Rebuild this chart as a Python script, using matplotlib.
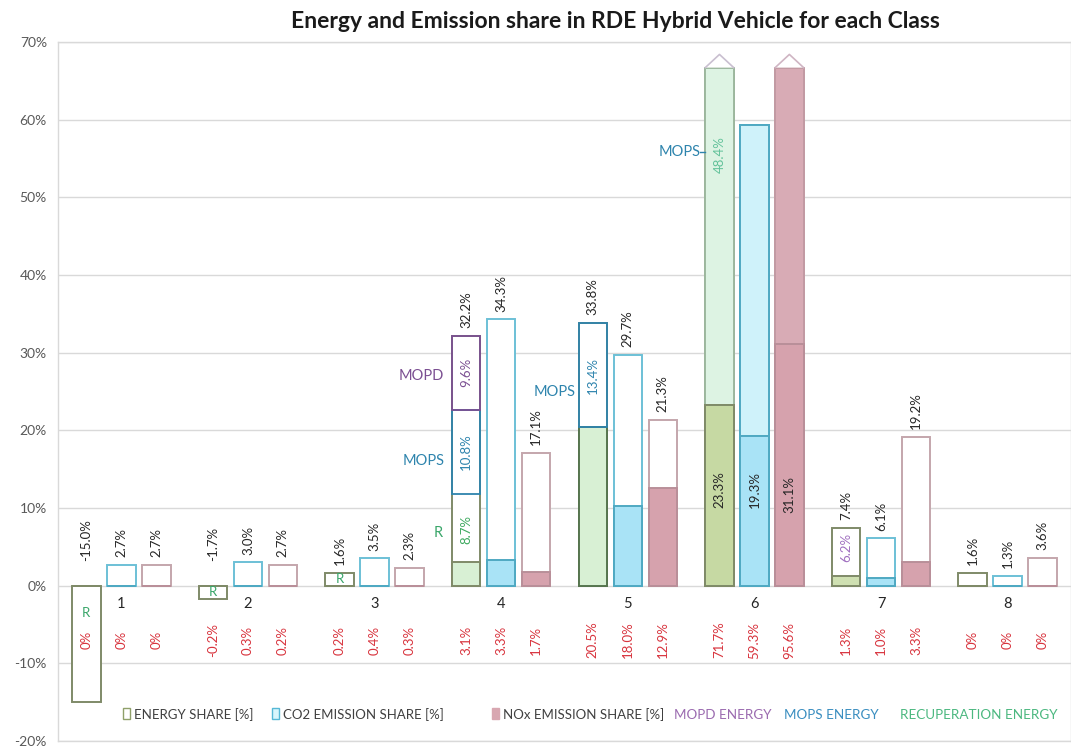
import numpy as np
import matplotlib.pyplot as plt
from matplotlib.patches import Polygon, Rectangle

plt.rcParams['font.family'] = ['Lato', 'DejaVu Sans']

# data (percent)
classes = [1, 2, 3, 4, 5, 6, 7, 8]
energy_share = [-15.0, -1.7, 1.6, 32.2, 33.8, 71.7, 7.4, 1.6]
co2_share = [2.7, 3.0, 3.5, 34.3, 29.7, 59.3, 6.1, 1.3]
nox_share = [2.7, 2.7, 2.3, 17.1, 21.3, 95.6, 19.2, 3.6]

# filled lower part of each bar
energy_base = [0, 0, 0, 3.1, 20.4, 23.3, 1.2, 0]
co2_base = [0, 0, 0, 3.3, 10.3, 19.3, 1.0, 0]
nox_base = [0, 0, 0, 1.7, 12.6, 31.1, 3.1, 0]

# split of the energy bar
recup_energy = [-15.0, -1.7, 1.6, 8.7, 0, 0, 0, 0]
mops_energy = [0, 0, 0, 10.8, 13.4, 48.4, 0, 0]
mopd_energy = [0, 0, 0, 9.6, 0, 0, 6.2, 0]

# red labels under the axis
energy_low = ['0%', '-0.2%', '0.2%', '3.1%', '20.5%', '71.7%', '1.3%', '0%']
co2_low = ['0%', '0.3%', '0.4%', '3.3%', '18.0%', '59.3%', '1.0%', '0%']
nox_low = ['0%', '0.2%', '0.3%', '1.7%', '12.9%', '95.6%', '3.3%', '0%']

CAP = 66.7  # bars taller than this are cut with an arrow

E_EDGE, C_EDGE, N_EDGE = '#7f8a68', '#6cc0d6', '#c4a6ac'
E_FILL, C_FILL, N_FILL = '#d8f0d4', '#a9e3f6', '#d6a2ad'
MOPD_C, MOPS_C, REC_C = '#7b4f92', '#2e84ad', '#3aa66a'

fig = plt.figure(figsize=(10.71, 7.47), dpi=100)
ax = fig.add_axes([58 / 1071, 6 / 747, 1013 / 1071, 699 / 747])

x = np.array(classes, dtype=float)
off, w = 0.276, 0.225
ex, cx, nx = x - off, x, x + off

def capped(v):
    return np.minimum(np.array(v, dtype=float), CAP)

# outlines of full bars
ax.bar(ex, capped(energy_share), w, facecolor='white', edgecolor=E_EDGE, lw=1.4, zorder=2)
ax.bar(cx, capped(co2_share), w, facecolor='white', edgecolor=C_EDGE, lw=1.4, zorder=2)
ax.bar(nx, capped(nox_share), w, facecolor='white', edgecolor=N_EDGE, lw=1.4, zorder=2)

# class 6 upper parts are filled lighter
i6 = 5
ax.bar(ex[i6], CAP - energy_base[i6], w, bottom=energy_base[i6], facecolor='#ddf3e3',
       edgecolor='#9db89f', lw=1.4, zorder=3)
ax.bar(cx[i6], co2_share[i6] - co2_base[i6], w, bottom=co2_base[i6], facecolor='#cff2fa',
       edgecolor='#4fa9c2', lw=1.4, zorder=3)
ax.bar(nx[i6], CAP - nox_base[i6], w, bottom=nox_base[i6], facecolor='#d8abb5',
       edgecolor='#c29aa3', lw=1.4, zorder=3)

# filled lower parts
e_fill = [E_FILL] * 8
e_fill[5] = '#c6d9a3'
e_fill[6] = '#cfe0b2'
e_edge = [E_EDGE] * 8
e_edge[4] = '#56754f'
ax.bar(ex, energy_base, w, facecolor=e_fill, edgecolor=e_edge, lw=1.4, zorder=4)
ax.bar(cx, co2_base, w, facecolor=C_FILL, edgecolor='#4fa9c2', lw=1.4, zorder=4)
ax.bar(nx, nox_base, w, facecolor=N_FILL, edgecolor='#b98f99', lw=1.4, zorder=4)

# energy segments with coloured outline
for i in range(8):
    if i == 5:
        continue
    b = energy_base[i] + max(recup_energy[i], 0)
    if mops_energy[i] > 0:
        ax.bar(ex[i], mops_energy[i], w, bottom=b, facecolor='none',
               edgecolor=MOPS_C, lw=1.3, zorder=5)
        if mopd_energy[i] > 0:
            ax.bar(ex[i], mopd_energy[i], w, bottom=b + mops_energy[i], facecolor='none',
                   edgecolor=MOPD_C, lw=1.3, zorder=5)

# arrows on cut bars
for xs, vals, ec in [(ex, energy_share, '#c9bfd0'), (nx, nox_share, '#cfb5c3')]:
    for i, v in enumerate(vals):
        if v > CAP:
            tri = [(xs[i] - w / 2, CAP), (xs[i], CAP + 1.7), (xs[i] + w / 2, CAP)]
            ax.add_patch(Polygon(tri, closed=True, facecolor='white', edgecolor='none', zorder=6))
            ax.plot([p[0] for p in tri], [p[1] for p in tri], color=ec, lw=1.2, zorder=7)

# value labels above bars
for xs, vals in [(ex, energy_share), (cx, co2_share), (nx, nox_share)]:
    for i, v in enumerate(vals):
        if i == 5:
            continue
        y = v + 1.0 if v > 0 else 3.2
        ax.text(xs[i], y, f'{v:.1f}%', rotation=90, ha='center', va='bottom',
                fontsize=9.5, color='#262626', zorder=8)

# red labels under the axis
for xs, labs in [(ex, energy_low), (cx, co2_low), (nx, nox_low)]:
    for i, s in enumerate(labs):
        ax.text(xs[i], -7.0, s, rotation=90, ha='center', va='center',
                fontsize=9.5, color='#d8333d', zorder=8)

# class numbers
for i, c in enumerate(classes):
    ax.text(cx[i], -2.4, str(c), ha='center', va='center', fontsize=10.5, color='#262626')

# inside / side annotations
ax.text(ex[0], -3.5, 'R', ha='center', va='center', fontsize=9.5, color=REC_C, zorder=8)
ax.text(ex[1], -0.85, 'R', ha='center', va='center', fontsize=9.5, color=REC_C, zorder=8)
ax.text(ex[2], 0.8, 'R', ha='center', va='center', fontsize=9.5, color=REC_C, zorder=8)

lx4 = ex[3] - w / 2
ax.text(lx4 - 0.07, 6.8, 'R', ha='right', va='center', fontsize=10.5, color=REC_C)
ax.text(lx4 - 0.06, 16.0, 'MOPS', ha='right', va='center', fontsize=10.5, color=MOPS_C)
ax.text(lx4 - 0.06, 27.0, 'MOPD', ha='right', va='center', fontsize=10.5, color=MOPD_C)
ax.text(ex[3], 7.2, '8.7%', rotation=90, ha='center', va='center', fontsize=9.5, color='#3faa60', zorder=8)
ax.text(ex[3], 17.2, '10.8%', rotation=90, ha='center', va='center', fontsize=9.5, color=MOPS_C, zorder=8)
ax.text(ex[3], 27.4, '9.6%', rotation=90, ha='center', va='center', fontsize=9.5, color=MOPD_C, zorder=8)

lx5 = ex[4] - w / 2
ax.text(lx5 - 0.02, 25.0, 'MOPS', ha='right', va='center', fontsize=10.5, color=MOPS_C)
ax.text(ex[4], 27.1, '13.4%', rotation=90, ha='center', va='center', fontsize=9.5, color=MOPS_C, zorder=8)

lx6 = ex[5] - w / 2
ax.plot([lx6 - 0.04, lx6], [55.9, 55.9], color=MOPS_C, lw=1.0, zorder=8)
ax.text(lx6 - 0.04, 55.9, 'MOPS', ha='right', va='center', fontsize=10.5, color=MOPS_C)
ax.text(ex[5], 55.5, '48.4%', rotation=90, ha='center', va='center', fontsize=9.5, color='#62c29a', zorder=8)
ax.text(ex[5], 12.4, '23.3%', rotation=90, ha='center', va='center', fontsize=9.5, color='#262626', zorder=8)
ax.text(cx[5], 12.4, '19.3%', rotation=90, ha='center', va='center', fontsize=9.5, color='#262626', zorder=8)
ax.text(nx[5], 11.8, '31.1%', rotation=90, ha='center', va='center', fontsize=9.5, color='#262626', zorder=8)

ax.text(ex[6], 4.9, '6.2%', rotation=90, ha='center', va='center', fontsize=9.5, color='#a070c0', zorder=8)

# legend drawn by hand
def px(p):
    return (p - 58) / 1013

ly = 0.0376
items = [(123, 'ENERGY SHARE [%]', 'white', '#8fa06a'),
         (272, 'CO2 EMISSION SHARE [%]', '#d8f6fc', '#56b8d6'),
         (492, 'NOx EMISSION SHARE [%]', '#d8a7b1', '#d8a7b1')]
for p, lab, fc, ec in items:
    ax.add_patch(Rectangle((px(p), ly - 0.0055), 7 / 1013, 11 / 699, transform=ax.transAxes,
                           facecolor=fc, edgecolor=ec, lw=1.0, clip_on=False))
    ax.text(px(p + 11), ly, lab, transform=ax.transAxes, ha='left', va='center',
            fontsize=9.5, color='#404040')
for p, lab, col in [(674, 'MOPD ENERGY', '#9b6bb0'), (784, 'MOPS ENERGY', '#3a8ec0'),
                    (900, 'RECUPERATION ENERGY', '#4cb880')]:
    ax.text(px(p), ly, lab, transform=ax.transAxes, ha='left', va='center', fontsize=9.7, color=col)

# axes styling
ax.set_xlim(0.5, 8.5)
ax.set_ylim(-20, 70)
ax.set_yticks(np.arange(-20, 71, 10))
ax.set_yticklabels([f'{t}%' for t in range(-20, 71, 10)], fontsize=10, color='#595959')
ax.tick_params(axis='y', length=0, pad=8)
ax.set_xticks([])
ax.grid(axis='y', color='#d9d9d9', lw=1.0, zorder=0)
ax.set_axisbelow(True)
for s in ax.spines.values():
    s.set_color('#d9d9d9')
    s.set_linewidth(1.0)

fig.text(615 / 1071, 1 - 21 / 747, 'Energy and Emission share in RDE Hybrid Vehicle for each Class',
         ha='center', va='center', fontsize=16.5, fontweight='bold', color='#1a1a1a')

fig.savefig('out.png', dpi=100)
